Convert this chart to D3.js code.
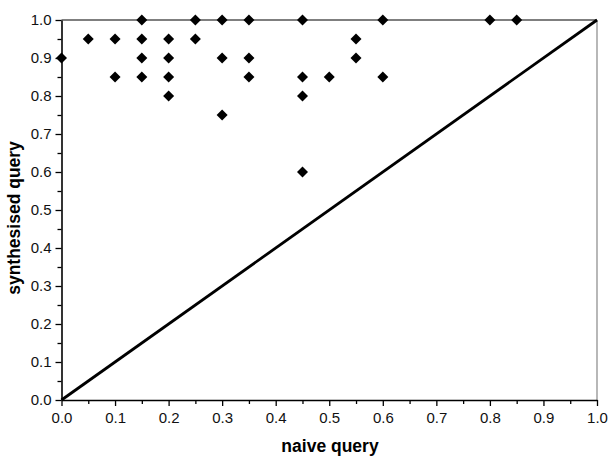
<!DOCTYPE html>
<html>
<head>
<meta charset="utf-8">
<script src="https://cdn.jsdelivr.net/npm/d3@7"></script>
<style>
  body { margin: 0; background: #fff; }
  svg { display: block; font-family: "Liberation Sans", Arial, sans-serif; }
</style>
</head>
<body>
<div id="chart"></div>
<script>
// data
const naiveVals = [0.0, 0.05, 0.1, 0.1, 0.15, 0.15, 0.15, 0.15, 0.2, 0.2, 0.2, 0.2,
  0.25, 0.25, 0.3, 0.3, 0.3, 0.35, 0.35, 0.35, 0.45, 0.45, 0.45, 0.45,
  0.5, 0.55, 0.55, 0.6, 0.6, 0.8, 0.85];
const synthVals = [0.9, 0.95, 0.95, 0.85, 1.0, 0.95, 0.9, 0.85, 0.95, 0.9, 0.85, 0.8,
  1.0, 0.95, 1.0, 0.9, 0.75, 1.0, 0.9, 0.85, 1.0, 0.85, 0.8, 0.6,
  0.85, 0.95, 0.9, 1.0, 0.85, 1.0, 1.0];
const diagonal = [0, 1];
const tickVals = [0, 0.1, 0.2, 0.3, 0.4, 0.5, 0.6, 0.7, 0.8, 0.9, 1.0];
const minorVals = [0.05, 0.15, 0.25, 0.35, 0.45, 0.55, 0.65, 0.75, 0.85, 0.95];

const width = 610, height = 462;
const plotL = 61.5, plotR = 597, plotT = 20, plotB = 400;

const svg = d3.select('#chart').append('svg')
  .attr('width', width)
  .attr('height', height);

const x = d3.scaleLinear().domain([0, 1]).range([plotL, plotR]);
const y = d3.scaleLinear().domain([0, 1]).range([plotB, plotT]);

// frame: top black, right gray
svg.append('line')
  .attr('x1', x(0)).attr('x2', x(1))
  .attr('y1', y(1)).attr('y2', y(1))
  .attr('stroke', '#000').attr('stroke-width', 1.2);
svg.append('line')
  .attr('x1', x(1)).attr('x2', x(1))
  .attr('y1', y(1)).attr('y2', y(0))
  .attr('stroke', '#888').attr('stroke-width', 1.2);

// minor ticks
svg.append('g')
  .attr('transform', `translate(0,${plotB})`)
  .call(d3.axisBottom(x).tickValues(minorVals).tickSize(4).tickFormat(''))
  .call(g => g.select('.domain').remove())
  .selectAll('line').attr('stroke-width', 1.3);
svg.append('g')
  .attr('transform', `translate(${plotL},0)`)
  .call(d3.axisLeft(y).tickValues(minorVals).tickSize(4).tickFormat(''))
  .call(g => g.select('.domain').remove())
  .selectAll('line').attr('stroke-width', 1.3);

// major axes
const xAxis = svg.append('g')
  .attr('transform', `translate(0,${plotB})`)
  .call(d3.axisBottom(x).tickValues(tickVals).tickSize(6).tickSizeOuter(0).tickPadding(6).tickFormat(d3.format('.1f')));
const yAxis = svg.append('g')
  .attr('transform', `translate(${plotL},0)`)
  .call(d3.axisLeft(y).tickValues(tickVals).tickSize(6).tickSizeOuter(0).tickPadding(4).tickFormat(d3.format('.1f')));

[xAxis, yAxis].forEach(g => {
  g.select('.domain').attr('stroke-width', 1.6);
  g.selectAll('.tick line').attr('stroke-width', 1.3);
  g.selectAll('text')
    .style('font-family', '"Liberation Sans", Arial, sans-serif')
    .style('font-size', '15px')
    .attr('fill', '#111');
});

// diagonal reference line
svg.append('path')
  .datum(diagonal)
  .attr('fill', 'none')
  .attr('stroke', '#000')
  .attr('stroke-width', 2.8)
  .attr('d', d3.line().x(d => x(d)).y(d => y(d)));

// diamond markers
const r = 5.5;
svg.append('g')
  .selectAll('path')
  .data(naiveVals.map((v, i) => [v, synthVals[i]]))
  .join('path')
  .attr('d', d => {
    const cx = x(d[0]), cy = y(d[1]);
    return `M${cx},${cy - r}L${cx + r},${cy}L${cx},${cy + r}L${cx - r},${cy}Z`;
  })
  .attr('fill', '#000');

// axis titles
svg.append('text')
  .attr('x', 330)
  .attr('y', 452)
  .attr('text-anchor', 'middle')
  .style('font-size', '17.5px')
  .style('font-weight', 'bold')
  .text('naive query');

svg.append('text')
  .attr('transform', 'translate(20,218) rotate(-90)')
  .attr('text-anchor', 'middle')
  .style('font-size', '17.5px')
  .style('font-weight', 'bold')
  .text('synthesised query');
</script>
</body>
</html>
